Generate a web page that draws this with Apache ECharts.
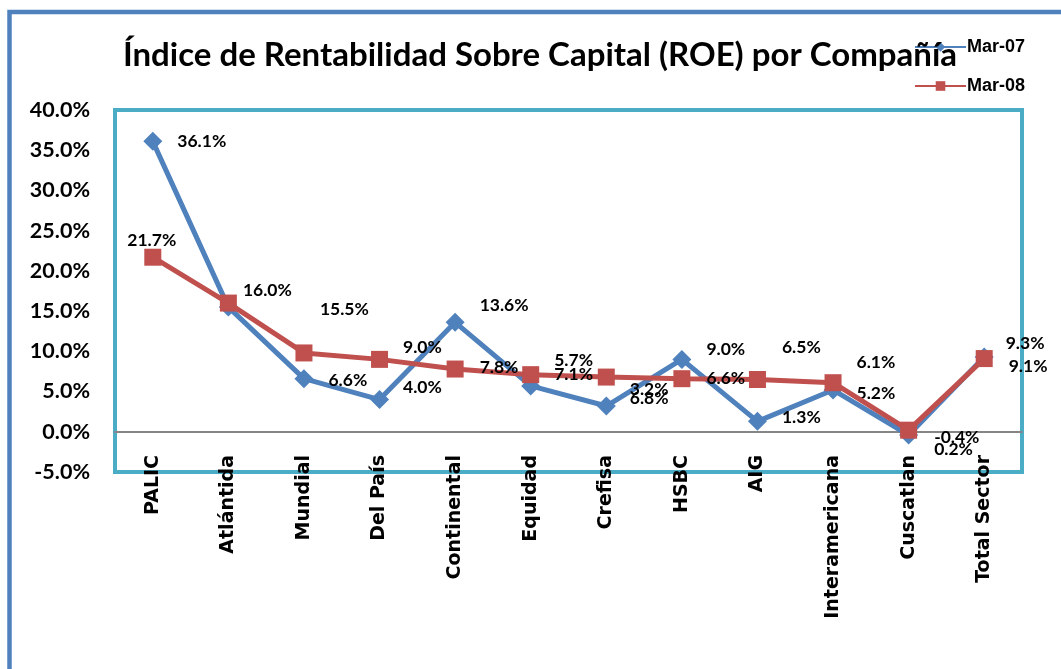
<!DOCTYPE html>
<html>
<head>
<meta charset="utf-8">
<script src="https://cdn.jsdelivr.net/npm/echarts@6/dist/echarts.min.js"></script>
<style>
  html, body { margin: 0; padding: 0; background: #fff; }
  #chart { width: 1061px; height: 669px; }
</style>
</head>
<body>
<div id="chart"></div>
<script>
// data (percent)
const companies = ['PALIC', 'Atlántida', 'Mundial', 'Del País', 'Continental', 'Equidad',
  'Crefisa', 'HSBC', 'AIG', 'Interamericana', 'Cuscatlan', 'Total Sector']
const mar07 = [36.1, 15.5, 6.6, 4.0, 13.6, 5.7, 3.2, 9.0, 1.3, 5.2, -0.4, 9.3]
const mar08 = [21.7, 16.0, 9.8, 9.0, 7.8, 7.1, 6.8, 6.6, 6.5, 6.1, 0.2, 9.1]
const seriesNames = ['Mar-07', 'Mar-08']

// label nudges, the data labels in the original were dragged around
const shift07 = [[0, 0], [67, 2], [0, 2], [-1, -12], [0, -17], [-1, -26],
  [-1, -17], [0, -10], [0, -4], [-1, 3], [1, 2], [-3, -14]]
const shift08 = [[-50, -17], [-10, -13], null, [-1, -12], [0, -2], [-1, 0],
  [-1, 21], [0, 0], [0, -32], [-1, -20], [1, 19], [0, 8]]

const labelFont = 'Lato, "Liberation Sans", sans-serif'

function buildData(values, shifts) {
  return values.map((v, i) => {
    const s = shifts[i]
    return {
      value: v,
      label: s ? { show: true, offset: s } : { show: false }
    }
  })
}

const chart = echarts.init(document.getElementById('chart'), null, { renderer: 'canvas' })

chart.setOption({
  animation: false,
  backgroundColor: '#fff',
  title: {
    text: 'Índice de Rentabilidad Sobre Capital (ROE) por Compañía',
    left: 535,
    top: 34,
    textAlign: 'center',
    textStyle: {
      fontFamily: labelFont,
      fontWeight: 'bold',
      fontSize: 33,
      color: '#000'
    }
  },
  graphic: [{
    type: 'rect',
    shape: { x: 9.5, y: 12, width: 1200, height: 800 },
    style: { fill: 'none', stroke: '#4F81BD', lineWidth: 4.5 },
    silent: true
  }],
  legend: {
    orient: 'vertical',
    left: 909,
    top: 33,
    itemGap: 21,
    itemWidth: 51,
    itemHeight: 12,
    textStyle: {
      fontFamily: '"Liberation Sans Narrow", "Liberation Sans", sans-serif',
      fontWeight: 'bold',
      fontSize: 18,
      color: '#000',
      padding: [0, 0, 0, -4]
    },
    data: seriesNames
  },
  grid: {
    show: true,
    left: 115,
    top: 110,
    right: 39,
    bottom: 197,
    borderColor: '#4BACC6',
    borderWidth: 4,
    backgroundColor: 'transparent',
    containLabel: false
  },
  xAxis: {
    type: 'category',
    data: companies,
    boundaryGap: true,
    axisLine: { onZero: true, lineStyle: { color: '#868686', width: 2 } },
    axisTick: { show: false },
    axisLabel: {
      rotate: 90,
      margin: -17,
      interval: 0,
      fontFamily: '"DejaVu Sans", sans-serif',
      fontWeight: 'bold',
      fontSize: 19,
      color: '#000'
    },
    splitLine: { show: false }
  },
  yAxis: {
    type: 'value',
    min: -5,
    max: 40,
    interval: 5,
    axisLine: { show: false },
    axisTick: { show: false },
    splitLine: { show: false },
    axisLabel: {
      margin: 25,
      fontFamily: labelFont,
      fontWeight: 'bold',
      fontSize: 21.5,
      color: '#000',
      formatter: v => v.toFixed(1) + '%'
    }
  },
  series: [
    {
      name: seriesNames[0],
      type: 'line',
      data: buildData(mar07, shift07),
      symbol: 'diamond',
      symbolSize: 19,
      lineStyle: { color: '#4F81BD', width: 5 },
      itemStyle: { color: '#4F81BD' },
      label: {
        show: true,
        position: 'right',
        distance: 15,
        fontFamily: labelFont,
        fontWeight: 'bold',
        fontSize: 17.5,
        color: '#000',
        formatter: p => p.value.toFixed(1) + '%'
      },
      z: 2
    },
    {
      name: seriesNames[1],
      type: 'line',
      data: buildData(mar08, shift08),
      symbol: 'rect',
      symbolSize: 17,
      lineStyle: { color: '#C0504D', width: 5 },
      itemStyle: { color: '#C0504D' },
      label: {
        show: true,
        position: 'right',
        distance: 16,
        fontFamily: labelFont,
        fontWeight: 'bold',
        fontSize: 17.5,
        color: '#000',
        formatter: p => p.value.toFixed(1) + '%'
      },
      z: 3
    }
  ]
})
</script>
</body>
</html>
